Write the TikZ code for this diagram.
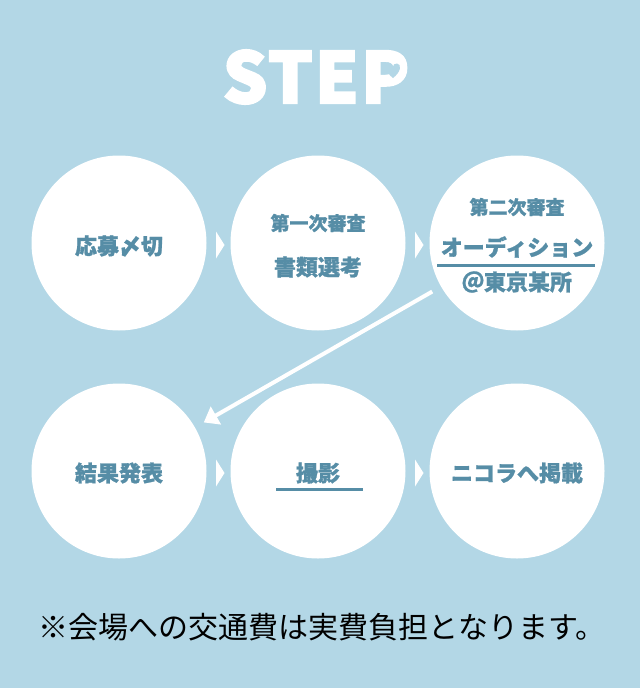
\documentclass[tikz,border=0pt]{standalone}
\usepackage{fontspec}
\setmainfont{Noto Sans CJK JP}
\newfontfamily\titlefont{Noto Sans CJK JP}[FakeBold=3,LetterSpace=3]
\newfontfamily\labelfont{Noto Sans CJK JP}[FakeBold=1]
\usepackage{tikz}
\usetikzlibrary{calc,arrows.meta}
\definecolor{skyback}{RGB}{179,215,230}
\definecolor{stepblue}{RGB}{86,141,166}
\newcommand{\fsz}[1]{\fontsize{#1}{#1}\selectfont}

\begin{document}
\begin{tikzpicture}[x=1pt,y=-1pt,
	stepcircle/.style={circle,fill=white,minimum size=175pt,inner sep=0pt},
	steplabel/.style={text=stepblue,font=\labelfont\bfseries\fsz{22},inner sep=0pt},
	sublabel/.style={text=stepblue,font=\labelfont\bfseries\fsz{19},inner sep=0pt},
	rule/.style={stepblue,line width=3pt}]
	\fill[skyback] (0,0) rectangle (640,688);
	\useasboundingbox (0,0) rectangle (640,688);
	\node[text=white,font=\titlefont\bfseries\fsz{70}] (title) at (316,77) {STEP};
	\fill[skyback,shift={($(title)+(77,-7)$)}] (0,8) .. controls (-8,2) and (-9,-6) .. (-4,-6.5) .. controls (-1.5,-6.7) and (0,-5) .. (0,-3.5) .. controls (0,-5) and (1.5,-6.7) .. (4,-6.5) .. controls (9,-6) and (8,2) .. (0,8) -- cycle;
	\node[stepcircle] (C1) at (119,243) {};
	\node[stepcircle] (C2) at (318,243) {};
	\node[stepcircle] (C3) at (517,243) {};
	\node[stepcircle] (C4) at (119,471) {};
	\node[stepcircle] (C5) at (318,471) {};
	\node[stepcircle] (C6) at (517,471) {};
	\node[steplabel] (L1) at ($(C1)+(0,3)$) {応募〆切};
	\node[sublabel] (L2a) at ($(C2)+(0,-20)$) {第一次審査};
	\node[steplabel] (L2b) at ($(C2)+(0,24)$) {書類選考};
	\node[sublabel] (L3a) at ($(C3)+(0,-36)$) {第二次審査};
	\node[steplabel] (L3b) at ($(C3)+(0,4)$) {オーディション};
	\node[steplabel] (L3c) at ($(C3)+(0,39)$) {＠東京某所};
	\node[steplabel] (L4) at ($(C4)+(0,2)$) {結果発表};
	\node[steplabel] (L5) at ($(C5)+(0,2)$) {撮影};
	\node[steplabel] (L6) at ($(C6)+(0,2)$) {ニコラへ掲載};
	\draw[rule] ($(C3)+(-80,22)$) -- ($(C3)+(78,22)$);
	\draw[rule] ($(C5)+(-42,18)$) -- ($(C5)+(45,18)$);
	\foreach \a/\b in {C1/C2,C2/C3,C4/C5,C5/C6}
		\fill[white] ($(\a)!0.5!(\b)+(-2.5,-11.5)$) -- ++(8.5,13.5) -- ++(-8.5,13.5) -- cycle;
	\draw[white,line width=4pt,-{Triangle[length=14pt,width=20pt]},shorten <=10pt,shorten >=10pt] (C3) -- (C4);
	\node[font=\fsz{30}] (note) at (322,627) {※会場への交通費は実費負担となります。};
	%\draw [brown] (current bounding box.south west) rectangle (current bounding box.north east);
\end{tikzpicture}
\end{document}
